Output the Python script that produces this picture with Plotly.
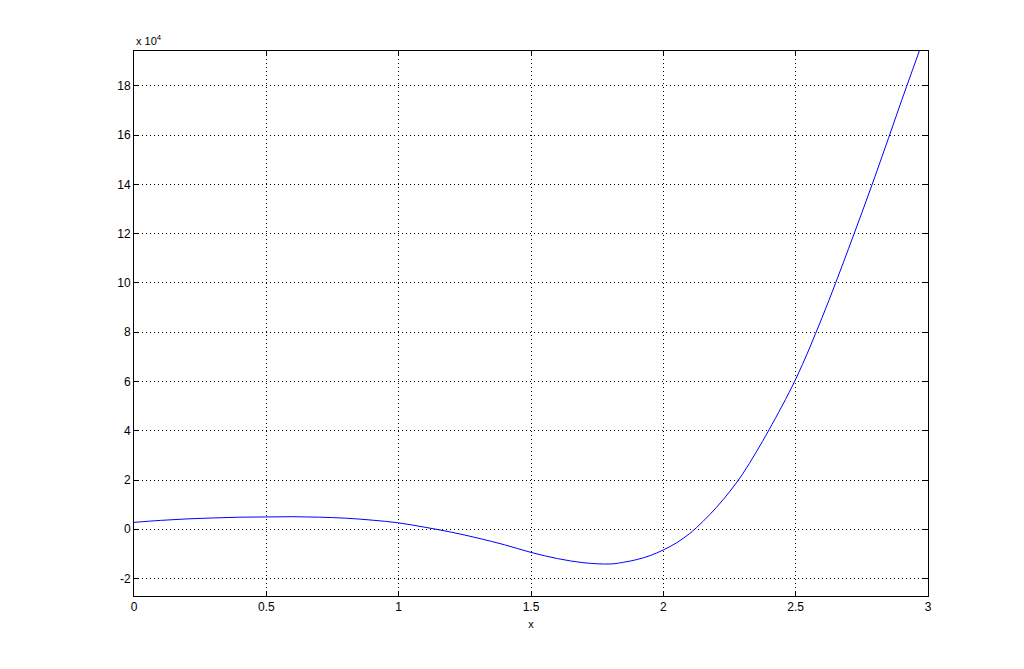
import plotly.graph_objects as go

x_vals = [0.0, 0.1, 0.2, 0.3, 0.4, 0.5, 0.6, 0.7, 0.8, 0.9, 1.0, 1.1, 1.2, 1.3, 1.4,
          1.5, 1.6, 1.7, 1.8, 1.85, 1.9, 1.95, 2.0, 2.05, 2.1, 2.15, 2.2, 2.25, 2.3, 2.35, 2.4,
          2.5, 2.6, 2.7, 2.8, 2.9, 3.0]
y_vals = [0.28, 0.36, 0.42, 0.46, 0.49, 0.50, 0.51, 0.49, 0.45, 0.37, 0.26, 0.08, -0.12, -0.36, -0.63,
          -0.94, -1.19, -1.36, -1.41, -1.34, -1.23, -1.07, -0.84, -0.55, -0.17, 0.32, 0.88, 1.52, 2.25, 3.12, 4.05,
          6.09, 8.6, 11.4, 14.33, 17.4, 20.4]

x_ticks = [0, 0.5, 1, 1.5, 2, 2.5, 3]
x_tick_labels = ["0", "0.5", "1", "1.5", "2", "2.5", "3"]
y_ticks = [-2, 0, 2, 4, 6, 8, 10, 12, 14, 16, 18]
y_tick_labels = ["-2", "0", "2", "4", "6", "8", "10", "12", "14", "16", "18"]

fig = go.Figure()
fig.add_trace(go.Scatter(x=x_vals, y=y_vals, mode="lines",
                         line=dict(color="#0000ff", width=1, shape="spline", smoothing=1.0),
                         showlegend=False, hoverinfo="skip"))

font = dict(family="Liberation Sans, Arial, sans-serif", size=12, color="black")
axis_common = dict(showline=True, linecolor="black", linewidth=1, mirror="ticks",
                   ticks="inside", ticklen=5, tickcolor="black", tickwidth=1,
                   showgrid=True, gridcolor="black", gridwidth=1, griddash="1px,3px",
                   zeroline=False, tickfont=font)

fig.update_xaxes(range=[0, 3], tickvals=x_ticks, ticktext=x_tick_labels,
                 title=dict(text="x", font=dict(family=font["family"], size=11, color="black"), standoff=6),
                 **axis_common)
fig.update_yaxes(range=[-2.71, 19.42], tickvals=y_ticks, ticktext=y_tick_labels, **axis_common)

fig.add_annotation(text="x 10<sup>4</sup>", xref="paper", yref="paper", x=0, y=1,
                   xanchor="left", yanchor="bottom", showarrow=False, yshift=2,
                   font=dict(family=font["family"], size=11, color="black"))

fig.update_layout(width=1024, height=669, paper_bgcolor="white", plot_bgcolor="white",
                  margin=dict(l=126, r=104, t=43, b=81), font=font)

fig.write_html("out.html")
